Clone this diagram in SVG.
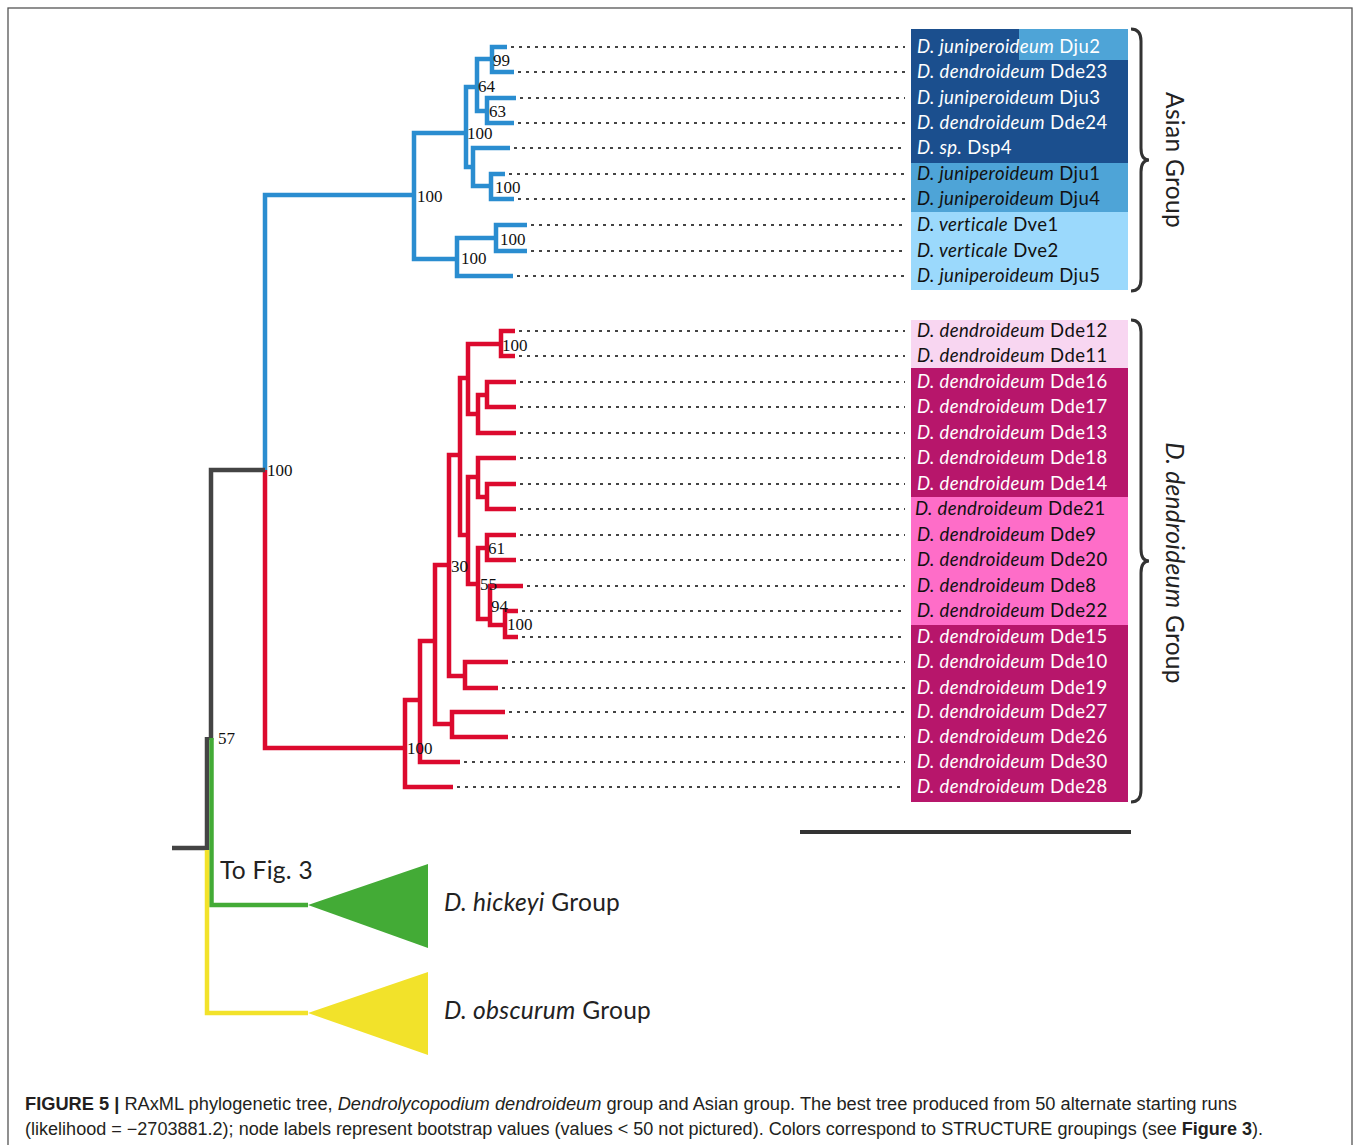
<svg xmlns="http://www.w3.org/2000/svg" width="1358" height="1145" viewBox="0 0 1358 1145">
<style>
.br{fill:none;stroke-width:4.5;stroke-linejoin:miter;stroke-linecap:butt}
.b{stroke:#2a8dd0}
.r{stroke:#dc0a2e}
.g{stroke:#444}
.gr{stroke:#43ab36}
.y{stroke:#f2e22a}
.dot{stroke:#444;stroke-width:2;stroke-dasharray:3 5;fill:none}
.nl{font-family:"Liberation Serif",serif;font-size:17px;fill:#111}
.lf{font-family:Lato,"Open Sans",sans-serif;font-size:18.5px;letter-spacing:0.4px}
.w{fill:#fff}
.k{fill:#111}
.it{font-style:italic}
.grp{font-family:Lato,"Open Sans",sans-serif;font-size:24.5px;letter-spacing:0.3px;fill:#222}
.brace{fill:none;stroke:#333;stroke-width:3}
.cap{font-family:"Liberation Sans",Arial,sans-serif;font-size:17.5px;fill:#231f20}
</style>
<rect x="8" y="8" width="1344" height="1160" fill="#fff" stroke="#555" stroke-width="1.3"/>

<g id="label-backgrounds">
<rect x="911" y="29" width="217" height="134" fill="#1b4f8e"/>
<rect x="1019" y="29" width="109" height="31" fill="#4ea4d7"/>
<rect x="911" y="163" width="217" height="49" fill="#4ea4d7"/>
<rect x="911" y="212" width="217" height="78" fill="#9bd9fc"/>
<rect x="911" y="320" width="217" height="48" fill="#f8d6f1"/>
<rect x="911" y="368" width="217" height="129" fill="#b7166b"/>
<rect x="911" y="497" width="217" height="128" fill="#fe6dc8"/>
<rect x="911" y="625" width="217" height="177" fill="#b7166b"/>
</g>

<g id="connectors">
<path class="dot" d="M511 47H905M518 72H905M520 98H905M518 123H905M514 148H905M509 174H905M518 199H905M531 225H905M531 251H905M517 276H905M519 331H905M519 356H905M520 382H905M520 407H905M520 433H905M520 458H905M520 484H905M520 509H905M520 535H905M520 560H905M527 586H905M522 611H905M522 637H905M512 662H905M502 688H905M509 712H905M512 737H905M464 762H905M457 787H905"/>
<path class="br b" d="M265 470V195H414"/>
<path class="br b" d="M465 133H414V259H457"/>
<path class="br b" d="M477 87H466V167H473"/>
<path class="br b" d="M491 59H477V111H487"/>
<path class="br b" d="M507 47H492V72H514"/>
<path class="br b" d="M516 98H487V123H514"/>
<path class="br b" d="M510 148H473V186H491"/>
<path class="br b" d="M505 174H491V199H514"/>
<path class="br b" d="M496 238H457V276H513"/>
<path class="br b" d="M527 225H496V251H527"/>
<path class="br r" d="M265 470V748H405"/>
<path class="br r" d="M420 700H405V787H453"/>
<path class="br r" d="M435 641H420V762H460"/>
<path class="br r" d="M449 565H435V724H452"/>
<path class="br r" d="M505 712H452V737H508"/>
<path class="br r" d="M460 455H449V676H465"/>
<path class="br r" d="M508 662H465V688H498"/>
<path class="br r" d="M468 378H460V535H468"/>
<path class="br r" d="M501 344H468V414H478"/>
<path class="br r" d="M515 331H501V356H515"/>
<path class="br r" d="M487 395H478V433H516"/>
<path class="br r" d="M516 382H487V407H516"/>
<path class="br r" d="M478 477H468V584H478"/>
<path class="br r" d="M516 458H478V497H487"/>
<path class="br r" d="M516 484H487V509H516"/>
<path class="br r" d="M487 548H478V619H490"/>
<path class="br r" d="M516 535H487V560H516"/>
<path class="br r" d="M523 586H490V625H505"/>
<path class="br r" d="M518 611H505V637H518"/>
<path class="br g" d="M265 470H211V740"/>
<path class="br g" d="M207 737V850M172 848H209"/>
<path class="br gr" d="M211.5 738V905H308"/>
<path class="br y" d="M207 850V1013H308"/>
</g>

<g id="collapsed-hickeyi">
<polygon points="308,905 428,864 428,948" fill="#43ab36"/>
<text class="grp" x="444" y="911"><tspan class="it">D. hickeyi</tspan> Group</text>
</g>
<g id="collapsed-obscurum">
<polygon points="308,1013 428,972 428,1055" fill="#f2e22a"/>
<text class="grp" x="444" y="1019"><tspan class="it">D. obscurum</tspan> Group</text>
</g>
<text id="to-fig3" class="grp" x="220" y="879" font-size="22">To Fig. 3</text>

<g id="node-labels">
<text class="nl" x="493" y="66">99</text>
<text class="nl" x="478" y="92">64</text>
<text class="nl" x="489" y="117">63</text>
<text class="nl" x="467" y="139">100</text>
<text class="nl" x="495" y="193">100</text>
<text class="nl" x="417" y="202">100</text>
<text class="nl" x="500" y="245">100</text>
<text class="nl" x="461" y="264">100</text>
<text class="nl" x="267" y="476">100</text>
<text class="nl" x="502" y="351">100</text>
<text class="nl" x="488" y="554">61</text>
<text class="nl" x="451" y="572">30</text>
<text class="nl" x="480" y="590">55</text>
<text class="nl" x="491" y="612">94</text>
<text class="nl" x="507" y="630">100</text>
<text class="nl" x="407" y="754">100</text>
<text class="nl" x="218" y="744" font-size="15">57</text>
</g>

<g id="leaf-labels" class="lf">
<text class="w" x="917" y="53"><tspan class="it">D. juniperoideum</tspan> Dju2</text>
<text class="w" x="917" y="78"><tspan class="it">D. dendroideum</tspan> Dde23</text>
<text class="w" x="917" y="104"><tspan class="it">D. juniperoideum</tspan> Dju3</text>
<text class="w" x="917" y="129"><tspan class="it">D. dendroideum</tspan> Dde24</text>
<text class="w" x="917" y="154"><tspan class="it">D. sp.</tspan> Dsp4</text>
<text class="k" x="917" y="180"><tspan class="it">D. juniperoideum</tspan> Dju1</text>
<text class="k" x="917" y="205"><tspan class="it">D. juniperoideum</tspan> Dju4</text>
<text class="k" x="917" y="231"><tspan class="it">D. verticale</tspan> Dve1</text>
<text class="k" x="917" y="257"><tspan class="it">D. verticale</tspan> Dve2</text>
<text class="k" x="917" y="282"><tspan class="it">D. juniperoideum</tspan> Dju5</text>
<text class="k" x="917" y="337"><tspan class="it">D. dendroideum</tspan> Dde12</text>
<text class="k" x="917" y="362"><tspan class="it">D. dendroideum</tspan> Dde11</text>
<text class="w" x="917" y="388"><tspan class="it">D. dendroideum</tspan> Dde16</text>
<text class="w" x="917" y="413"><tspan class="it">D. dendroideum</tspan> Dde17</text>
<text class="w" x="917" y="439"><tspan class="it">D. dendroideum</tspan> Dde13</text>
<text class="w" x="917" y="464"><tspan class="it">D. dendroideum</tspan> Dde18</text>
<text class="w" x="917" y="490"><tspan class="it">D. dendroideum</tspan> Dde14</text>
<text class="k" x="915" y="515"><tspan class="it">D. dendroideum</tspan> Dde21</text>
<text class="k" x="917" y="541"><tspan class="it">D. dendroideum</tspan> Dde9</text>
<text class="k" x="917" y="566"><tspan class="it">D. dendroideum</tspan> Dde20</text>
<text class="k" x="917" y="592"><tspan class="it">D. dendroideum</tspan> Dde8</text>
<text class="k" x="917" y="617"><tspan class="it">D. dendroideum</tspan> Dde22</text>
<text class="w" x="917" y="643"><tspan class="it">D. dendroideum</tspan> Dde15</text>
<text class="w" x="917" y="668"><tspan class="it">D. dendroideum</tspan> Dde10</text>
<text class="w" x="917" y="694"><tspan class="it">D. dendroideum</tspan> Dde19</text>
<text class="w" x="917" y="718"><tspan class="it">D. dendroideum</tspan> Dde27</text>
<text class="w" x="917" y="743"><tspan class="it">D. dendroideum</tspan> Dde26</text>
<text class="w" x="917" y="768"><tspan class="it">D. dendroideum</tspan> Dde30</text>
<text class="w" x="917" y="793"><tspan class="it">D. dendroideum</tspan> Dde28</text>
</g>

<g id="asian-group">
<path class="brace" d="M1131 29Q1141 29 1141 41V148Q1141 160 1149 160Q1141 160 1141 172V279Q1141 291 1131 291"/>
<text class="grp" transform="translate(1166 160) rotate(90)" text-anchor="middle">Asian Group</text>
</g>
<g id="dendroideum-group">
<path class="brace" d="M1131 320Q1141 320 1141 332V549Q1141 561 1149 561Q1141 561 1141 573V790Q1141 802 1131 802"/>
<text class="grp" transform="translate(1166 563) rotate(90)" text-anchor="middle"><tspan class="it">D. dendroideum</tspan> Group</text>
</g>

<line id="scale-bar" x1="800" y1="832" x2="1131" y2="832" stroke="#333" stroke-width="4"/>

<g id="caption">
<text class="cap" x="25" y="1110" textLength="1212" lengthAdjust="spacingAndGlyphs"><tspan font-weight="bold">FIGURE 5 |</tspan> RAxML phylogenetic tree, <tspan font-style="italic">Dendrolycopodium dendroideum</tspan> group and Asian group. The best tree produced from 50 alternate starting runs</text>
<text class="cap" x="25" y="1135" textLength="1238" lengthAdjust="spacingAndGlyphs">(likelihood = −2703881.2); node labels represent bootstrap values (values &lt; 50 not pictured). Colors correspond to STRUCTURE groupings (see <tspan font-weight="bold">Figure 3</tspan>).</text>
</g>
</svg>
